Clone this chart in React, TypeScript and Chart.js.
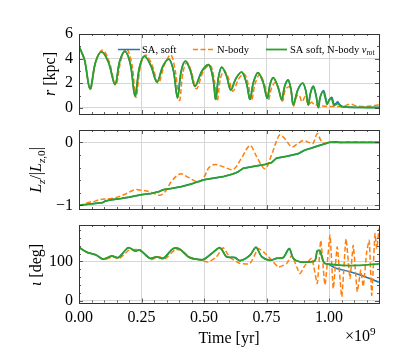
import React, { useEffect, useRef } from 'react';
import { Chart, registerables } from 'chart.js';
Chart.register(...registerables);

const FONT = '"Liberation Serif", "DejaVu Serif", serif';

// ---------- tick values ----------
const timeTicks = [0, 0.25, 0.5, 0.75, 1.0];
const rTicks = [0, 2, 4, 6];
const lzTicks = [-1, 0];
const incTicks = [0, 100];

// ---------- panel 1: r [kpc] ----------
const rVrotT = [0,0.022,0.044,0.066,0.09,0.118,0.144,0.163,0.184,0.206,0.224,0.242,0.262,0.288,0.312,0.336,0.36,0.378,0.394,0.409,0.426,0.446,0.464,0.492,0.519,0.536,0.547,0.558,0.571,0.59,0.607,0.628,0.651,0.67,0.684,0.698,0.716,0.736,0.753,0.764,0.777,0.796,0.811,0.822,0.836,0.848,0.857,0.876,0.895,0.907,0.917,0.926,0.937,0.948,0.957,0.965,0.977,0.985,0.992,1.0,1.01,1.02,1.03,1.037,1.05,1.08,1.15,1.2];
const rVrotV = [5.0,3.9,1.55,3.7,4.55,3.7,1.9,3.8,4.6,3.5,0.97,3.3,4.2,3.4,2.1,3.4,3.95,3.0,0.8,3.0,3.8,3.0,1.75,3.0,3.5,2.4,0.7,2.5,3.3,2.6,1.45,2.4,2.9,2.0,0.7,2.1,2.85,2.1,0.78,1.9,2.45,1.7,0.65,1.7,2.27,1.5,0.25,1.5,2.0,1.4,0.25,1.2,1.72,1.0,0.02,0.9,1.3,0.8,0.3,0.6,0.75,0.2,0.3,0.33,0.1,0.05,0.03,0.03];
const rSoftTailT = [0.937,0.948,0.957,0.966,0.978,0.986,0.993,1.002,1.012,1.02,1.027,1.035,1.042,1.05,1.06,1.08,1.15,1.2];
const rSoftTailV = [1.78,1.05,0.05,0.95,1.4,0.9,0.35,0.7,0.85,0.3,0.35,0.5,0.3,0.15,0.08,0.05,0.03,0.03];
const rNbodyT = [0,0.022,0.045,0.068,0.094,0.12,0.147,0.168,0.19,0.212,0.228,0.246,0.266,0.292,0.317,0.342,0.367,0.385,0.402,0.416,0.432,0.45,0.47,0.498,0.525,0.542,0.553,0.565,0.58,0.598,0.616,0.64,0.662,0.678,0.69,0.705,0.723,0.742,0.758,0.77,0.785,0.8,0.814,0.826,0.842,0.85,0.858,0.87,0.88,0.892,0.905,0.918,0.93,0.945,0.96,0.975,1.0,1.03,1.06,1.085,1.11,1.14,1.17,1.2];
const rNbodyV = [5.0,3.9,1.5,3.8,4.7,3.8,1.85,3.9,4.8,3.5,0.85,3.4,4.3,3.5,2.0,3.5,4.3,3.0,0.6,2.9,3.7,2.9,1.55,3.0,3.45,2.2,0.55,2.3,3.05,2.4,1.35,2.4,2.75,1.8,0.6,2.0,2.7,1.9,0.7,1.6,2.05,1.4,0.55,1.5,1.7,1.1,0.15,0.9,1.05,0.5,0.9,0.25,0.45,0.2,0.35,0.15,0.12,0.1,0.15,0.3,0.15,0.1,0.15,0.25];

// ---------- panel 2: Lz / |Lz,0| ----------
const lzVrotT = [0,0.03,0.06,0.095,0.105,0.13,0.17,0.2,0.25,0.29,0.32,0.337,0.37,0.41,0.45,0.47,0.504,0.55,0.58,0.617,0.635,0.657,0.7,0.744,0.77,0.79,0.83,0.877,0.89,0.904,0.93,0.96,0.985,1.0,1.2];
const lzVrotV = [-1,-0.985,-0.97,-0.955,-0.93,-0.91,-0.89,-0.87,-0.83,-0.81,-0.78,-0.75,-0.73,-0.7,-0.66,-0.63,-0.59,-0.56,-0.54,-0.5,-0.47,-0.41,-0.38,-0.35,-0.32,-0.25,-0.22,-0.18,-0.15,-0.12,-0.09,-0.05,-0.02,0,0];
const lzSoftTailT = [1.0,1.015,1.03,1.045,1.2];
const lzSoftTailV = [0,0.012,0.01,0,0];
const lzNbodyT = [0,0.02,0.04,0.06,0.08,0.1,0.13,0.16,0.19,0.225,0.25,0.28,0.3,0.324,0.345,0.37,0.405,0.44,0.477,0.5,0.52,0.544,0.58,0.617,0.65,0.684,0.71,0.744,0.77,0.79,0.804,0.825,0.851,0.875,0.897,0.92,0.935,0.953,0.965,0.977,1.0,1.05,1.08,1.2];
const lzNbodyV = [-1,-0.98,-0.95,-0.94,-0.91,-0.9,-0.89,-0.86,-0.81,-0.75,-0.76,-0.78,-0.81,-0.84,-0.78,-0.62,-0.5,-0.56,-0.63,-0.55,-0.4,-0.35,-0.39,-0.43,-0.25,-0.05,-0.22,-0.42,-0.2,0.02,0.12,0.05,-0.07,-0.02,0.03,0,-0.02,0.14,0.05,-0.01,0,0,0.01,0];

// ---------- panel 3: inclination [deg] ----------
const incVrotT = [0,0.031,0.05,0.07,0.097,0.131,0.157,0.197,0.224,0.244,0.284,0.31,0.337,0.377,0.404,0.437,0.457,0.497,0.53,0.564,0.59,0.624,0.644,0.684,0.708,0.731,0.764,0.791,0.817,0.841,0.857,0.884,0.924,0.944,0.953,0.964,0.98,1.004,1.057,1.11,1.2];
const incVrotV = [136,124,120,116,106,114,110,135,127,129,108,112,108,133,131,112,107,105,120,135,112,110,102,116,136,112,103,108,110,133,108,99,99,102,127,127,97,93,90,90,94];
const incSoftTailT = [0.98,1.0,1.031,1.084,1.137,1.2];
const incSoftTailV = [97,92,82,74,63,47];
const incNbodyT = [0,0.04,0.06,0.1,0.135,0.16,0.2,0.24,0.29,0.32,0.345,0.384,0.41,0.44,0.47,0.517,0.55,0.577,0.604,0.644,0.684,0.717,0.737,0.764,0.797,0.831,0.851,0.871,0.884,0.904,0.931,0.953,0.967,0.984,1.004,1.017,1.033,1.051,1.068,1.084,1.097,1.113,1.127,1.137,1.151,1.161,1.171,1.184,1.191,1.2];
const incNbodyV = [136,120,119,105,112,107,129,130,105,112,107,130,128,112,106,99,112,135,110,95,95,133,125,108,86,95,116,86,69,90,108,44,154,40,167,31,137,10,158,57,141,23,78,36,125,154,14,171,133,184];

const BLUE = '#1f77b4';
const ORANGE = '#ff7f0e';
const GREEN = '#2ca02c';

type P = { x: number; y: number };
const pts = (t: number[], v: number[]): P[] => t.map((x, i) => ({ x, y: v[i] }));
const joinTail = (t: number[], v: number[], tt: number[], tv: number[]): P[] =>
  [...pts(t, v).filter((p) => p.x < tt[0]), ...pts(tt, tv)];

type Seg = { t: string; it?: boolean; sub?: boolean; sup?: boolean };

function drawRich(ctx: CanvasRenderingContext2D, segs: Seg[], size: number, x: number, y: number, rotate: boolean, align: 'center' | 'left') {
  const fontOf = (s: Seg) => `${s.it ? 'italic ' : ''}${(s.sub || s.sup) ? size * 0.7 : size}px ${FONT}`;
  let total = 0;
  const widths = segs.map((s) => { ctx.font = fontOf(s); const w = ctx.measureText(s.t).width; total += w; return w; });
  ctx.save();
  ctx.translate(x, y);
  if (rotate) ctx.rotate(-Math.PI / 2);
  ctx.fillStyle = '#000';
  ctx.textBaseline = 'alphabetic';
  ctx.textAlign = 'left';
  let cx = align === 'center' ? -total / 2 : 0;
  const base = size * 0.33;
  segs.forEach((s, i) => {
    ctx.font = fontOf(s);
    const dy = s.sub ? size * 0.22 : s.sup ? -size * 0.4 : 0;
    ctx.fillText(s.t, cx, base + dy);
    cx += widths[i];
  });
  ctx.restore();
}

function framePlugin(cfg: { xMinor: number; yMinor: number; yMajor: number[]; extra?: (c: Chart) => void }) {
  return {
    id: 'frame' + Math.random(),
    afterDraw(chart: any) {
      const { ctx, chartArea: a, scales } = chart;
      const xs = scales.x, ys = scales.y;
      ctx.save();
      ctx.strokeStyle = '#333';
      ctx.lineWidth = 0.8;
      ctx.beginPath();
      const nx = Math.round((xs.max - xs.min) / cfg.xMinor);
      for (let i = 0; i <= nx; i++) {
        const v = xs.min + i * cfg.xMinor;
        const major = timeTicks.some((m) => Math.abs(m - v) < 1e-6);
        const len = major ? 4 : 2;
        const px = Math.round(xs.getPixelForValue(v)) + 0.5;
        ctx.moveTo(px, a.bottom); ctx.lineTo(px, a.bottom - len);
        ctx.moveTo(px, a.top); ctx.lineTo(px, a.top + len);
      }
      const y0 = Math.ceil(ys.min / cfg.yMinor - 1e-9);
      const y1 = Math.floor(ys.max / cfg.yMinor + 1e-9);
      for (let k = y0; k <= y1; k++) {
        const v = k * cfg.yMinor;
        const major = cfg.yMajor.some((m) => Math.abs(m - v) < 1e-6);
        const len = major ? 4 : 2;
        const py = Math.round(ys.getPixelForValue(v)) + 0.5;
        ctx.moveTo(a.left, py); ctx.lineTo(a.left + len, py);
        ctx.moveTo(a.right, py); ctx.lineTo(a.right - len, py);
      }
      ctx.stroke();
      ctx.strokeStyle = '#333';
      ctx.lineWidth = 1;
      ctx.strokeRect(Math.round(a.left) + 0.5, Math.round(a.top) + 0.5, Math.round(a.right - a.left), Math.round(a.bottom - a.top));
      ctx.restore();
      if (cfg.extra) cfg.extra(chart);
    },
  };
}

function makeConfig(opts: {
  datasets: any[]; ymin: number; ymax: number; yMajor: number[]; yMinor: number;
  padTop: number; padBottom: number; xHeight: number; showX: boolean; yFmt: (v: number) => string;
  extra?: (c: Chart) => void;
}): any {
  const tickFont = { family: FONT, size: 16 };
  return {
    type: 'line',
    data: { datasets: opts.datasets },
    options: {
      responsive: false,
      animation: false,
      devicePixelRatio: 1,
      layout: { padding: { left: 0, right: 20, top: opts.padTop, bottom: opts.padBottom } },
      plugins: { legend: { display: false }, tooltip: { enabled: false } },
      elements: { point: { radius: 0 } },
      scales: {
        x: {
          type: 'linear', min: 0, max: 1.2,
          afterBuildTicks: (s: any) => { s.ticks = timeTicks.map((v) => ({ value: v })); },
          afterFit: (s: any) => { s.height = opts.xHeight; s.paddingLeft = 0; s.paddingRight = 0; s.paddingTop = 0; s.paddingBottom = 0; },
          ticks: { display: opts.showX, font: tickFont, color: '#000', padding: 6, maxRotation: 0, autoSkip: false, callback: (v: number) => v.toFixed(2) },
          grid: { color: '#d6d6d6', lineWidth: 1, drawTicks: false },
          border: { display: false },
        },
        y: {
          type: 'linear', min: opts.ymin, max: opts.ymax,
          afterBuildTicks: (s: any) => { s.ticks = opts.yMajor.map((v) => ({ value: v })); },
          afterFit: (s: any) => { s.width = 79; s.paddingTop = 0; s.paddingBottom = 0; s.paddingLeft = 0; s.paddingRight = 0; },
          ticks: { font: tickFont, color: '#000', padding: 6, autoSkip: false, callback: (v: number) => opts.yFmt(v) },
          grid: { color: '#d6d6d6', lineWidth: 1, drawTicks: false },
          border: { display: false },
        },
      },
    },
    plugins: [framePlugin({ xMinor: 0.05, yMinor: opts.yMinor, yMajor: opts.yMajor, extra: opts.extra })],
  };
}

const fmtMinus = (v: number) => (v < 0 ? '\u2212' + Math.abs(v) : String(v));

function ds(label: string, data: P[], color: string, order: number, dashed: boolean, width: number, tension: number) {
  return {
    label, data, borderColor: color, backgroundColor: color, borderWidth: width,
    borderDash: dashed ? [5, 2.5] : [], tension, order, pointRadius: 0, fill: false,
  };
}

export default function App() {
  const c1 = useRef<HTMLCanvasElement>(null);
  const c2 = useRef<HTMLCanvasElement>(null);
  const c3 = useRef<HTMLCanvasElement>(null);

  useEffect(() => {
    document.body.style.margin = '0';
    const charts: Chart[] = [];

    charts.push(new Chart(c1.current!, makeConfig({
      datasets: [
        ds('SA, soft', joinTail(rVrotT, rVrotV, rSoftTailT, rSoftTailV), BLUE, 2, false, 1.5, 0.35),
        ds('N-body', pts(rNbodyT, rNbodyV), ORANGE, 1, true, 1.5, 0.35),
        ds('SA soft, N-body v_rot', pts(rVrotT, rVrotV), GREEN, 0, false, 1.8, 0.35),
      ],
      ymin: -0.5, ymax: 6, yMajor: rTicks, yMinor: 1, padTop: 34, padBottom: 6, xHeight: 0, showX: false,
      yFmt: fmtMinus,
      extra: (chart: any) => {
        const ctx = chart.ctx as CanvasRenderingContext2D;
        drawRich(ctx, [{ t: 'r', it: true }, { t: ' [kpc]' }], 16, 50, 74, true, 'center');
        const ly = 49.5;
        const items: [string, boolean, number, number][] = [[BLUE, false, 118, 140], [ORANGE, true, 193, 214], [GREEN, false, 266, 287]];
        items.forEach(([col, dash, x0, x1]) => {
          ctx.save();
          ctx.strokeStyle = col; ctx.lineWidth = col === GREEN ? 1.8 : 1.5;
          ctx.setLineDash(dash ? [5, 2.5] : []);
          ctx.beginPath(); ctx.moveTo(x0, ly); ctx.lineTo(x1, ly); ctx.stroke();
          ctx.restore();
        });
        drawRich(ctx, [{ t: 'SA, soft' }], 10.5, 142, ly - 0.3, false, 'left');
        drawRich(ctx, [{ t: 'N-body' }], 10.5, 217, ly - 0.3, false, 'left');
        drawRich(ctx, [{ t: 'SA soft, N-body ' }, { t: 'v', it: true }, { t: 'rot', sub: true }], 10.5, 290, ly - 0.3, false, 'left');
      },
    })));

    charts.push(new Chart(c2.current!, makeConfig({
      datasets: [
        ds('SA, soft', joinTail(lzVrotT, lzVrotV, lzSoftTailT, lzSoftTailV), BLUE, 2, false, 1.5, 0),
        ds('N-body', pts(lzNbodyT, lzNbodyV), ORANGE, 1, true, 1.5, 0.35),
        ds('SA soft, N-body v_rot', pts(lzVrotT, lzVrotV), GREEN, 0, false, 1.8, 0),
      ],
      ymin: -1.057, ymax: 0.197, yMajor: lzTicks, yMinor: 0.2, padTop: 10, padBottom: 7, xHeight: 0, showX: false,
      yFmt: fmtMinus,
      extra: (chart: any) => {
        drawRich(chart.ctx, [
          { t: 'L', it: true }, { t: 'z', it: true, sub: true }, { t: '/|' },
          { t: 'L', it: true }, { t: 'z', it: true, sub: true }, { t: ',0', sub: true }, { t: '|' },
        ], 16, 36, 50, true, 'center');
      },
    })));

    charts.push(new Chart(c3.current!, makeConfig({
      datasets: [
        ds('SA, soft', joinTail(incVrotT, incVrotV, incSoftTailT, incSoftTailV), BLUE, 2, false, 1.5, 0.3),
        ds('N-body', pts(incNbodyT, incNbodyV), ORANGE, 1, true, 1.5, 0.15),
        ds('SA soft, N-body v_rot', pts(incVrotT, incVrotV), GREEN, 0, false, 1.8, 0.3),
      ],
      ymin: -4.5, ymax: 193, yMajor: incTicks, yMinor: 20, padTop: 9, padBottom: 0, xHeight: 56.5, showX: true,
      yFmt: fmtMinus,
      extra: (chart: any) => {
        const ctx = chart.ctx as CanvasRenderingContext2D;
        drawRich(ctx, [{ t: '\u03b9', it: true }, { t: ' [deg]' }], 16, 36, 49, true, 'center');
        drawRich(ctx, [{ t: 'Time [yr]' }], 16, 229, 122, false, 'center');
        drawRich(ctx, [{ t: '\u00d710' }, { t: '9', sup: true }], 16, 345, 120, false, 'left');
      },
    })));

    return () => { charts.forEach((c) => c.destroy()); };
  }, []);

  return (
    <div style={{ position: 'relative', width: 399, height: 359 }}>
      <canvas ref={c1} width={399} height={120} style={{ position: 'absolute', left: 0, top: 0 }} />
      <canvas ref={c2} width={399} height={96} style={{ position: 'absolute', left: 0, top: 120 }} />
      <canvas ref={c3} width={399} height={143} style={{ position: 'absolute', left: 0, top: 216 }} />
    </div>
  );
}
